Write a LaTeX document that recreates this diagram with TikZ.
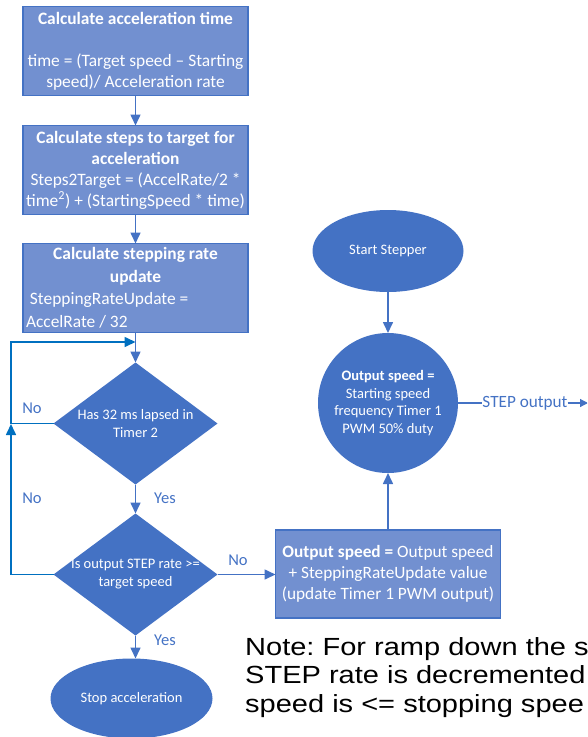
\documentclass[tikz,border=0pt]{standalone}
\usepackage{fontspec}
\setmainfont{Carlito}
\newfontfamily\notefont[FakeStretch=1.17]{Liberation Sans}
\usetikzlibrary{arrows.meta,positioning,shapes.geometric}
\definecolor{boxBlue}{RGB}{114,144,208}
\definecolor{officeBlue}{RGB}{68,114,196}
\definecolor{loopBlue}{RGB}{0,112,192}
\frenchspacing

\begin{document}
\begin{tikzpicture}[
    x=1pt, y=-1pt,
    flow/.style={-{Triangle[length=11pt,width=10pt]}, line width=1.6pt, draw=officeBlue},
    loopflow/.style={-{Triangle[length=11pt,width=10pt]}, line width=1.6pt, draw=loopBlue},
    stepbox/.style={
      rectangle,
      draw=officeBlue,
      line width=1.6pt,
      fill=boxBlue,
      text=white,
      align=center,
      inner sep=1pt,
      outer sep=0pt,
      minimum width=225pt,
      minimum height=89pt,
      font=\fontsize{17.4}{21}\selectfont
    },
    decision/.style={
      diamond,
      fill=officeBlue,
      text=white,
      align=center,
      aspect=1.344,
      inner xsep=-8pt,
      inner ysep=0pt,
      outer sep=0pt,
      minimum width=164pt,
      minimum height=122pt,
      font=\fontsize{14.5}{18}\selectfont
    },
    terminal/.style={
      ellipse,
      fill=officeBlue,
      text=white,
      align=center,
      inner sep=0pt,
      outer sep=0pt,
      font=\fontsize{14.5}{17.5}\selectfont
    },
    answer/.style={text=officeBlue, inner sep=0pt, font=\fontsize{16.5}{20}\selectfont}
  ]
    \useasboundingbox (0,0) rectangle (587,737);
    \clip (0,0) rectangle (587,737);

    % acceleration column
    \node[stepbox] (acctime) at (135.5,51) {
      \textbf{Calculate acceleration time}\\
      \mbox{}\\
      time = (Target speed – Starting\\
      speed)/ Acceleration rate
    };
    \node[stepbox, below=30pt of acctime] (steps) {
      \textbf{Calculate steps to target for}\\
      \textbf{acceleration}\\
      Steps2Target = (AccelRate/2 *\\
      time\textsuperscript{2}) + (StartingSpeed * time)
    };
    \node[stepbox, below=29pt of steps,
      font=\fontsize{17.4}{22.5}\selectfont] (rateupd) {
      \textbf{Calculate stepping rate}\\
      \textbf{update}\\
      \makebox[219pt][l]{\hspace*{4pt}SteppingRateUpdate =}\\
      \makebox[219pt][l]{AccelRate / 32}
    };
    \node[decision, below=30pt of rateupd] (lapsed) {Has 32 ms lapsed in\\ Timer 2};
    \node[decision, below=29pt of lapsed] (reached) {Is output STEP rate >=\\ target speed};
    \node[terminal, minimum width=162pt, minimum height=80pt,
      below=23pt of reached, xshift=-4pt] (stop) {Stop acceleration};

    % output column
    \node[terminal, minimum width=151pt, minimum height=82pt] (start) at (388,251) {Start Stepper};
    \node[terminal, circle, minimum size=140pt, below=41pt of start] (outspd) {
      \textbf{Output speed =}\\
      Starting speed\\
      frequency Timer 1\\
      PWM 50\% duty
    };
    \node[stepbox, below=57pt of outspd, minimum height=88pt,
      font=\fontsize{17.3}{21}\selectfont] (outupd) {
      \textbf{Output speed =} Output speed\\
      + SteppingRateUpdate value\\
      (update Timer 1 PWM output)
    };
    \node[answer, font=\fontsize{17.2}{20}\selectfont] (stepout) at (525,403) {STEP output};
    \coordinate (stepend) at (588,403);

    % answers
    \node[answer] (nolapsed) at (32,408) {No};
    \node[answer] (noreached) at (32,498) {No};
    \node[answer] (yeslapsed) at (165,498) {Yes};
    \node[answer] (noupd) at (238,560) {No};
    \node[answer] (yesreached) at (165,640) {Yes};

    % note
    \node[anchor=base west, inner sep=0pt, align=left,
      font=\notefont\fontsize{24.8}{28.5}\selectfont] (note) at (245,712) {
      Note: For ramp down the s\\
      STEP rate is decremented\\
      speed is <= stopping spee
    };

    % connectors
    \draw[flow] (acctime) -- (steps);
    \draw[flow] (steps) -- (rateupd);
    \draw[flow] (rateupd) -- (lapsed);
    \draw[flow] (lapsed) -- (reached);
    \draw[flow] (reached.south) -- (reached.south |- stop.north);
    \draw[flow] (reached.east) -- (reached.east -| outupd.west);
    \draw[flow] (outupd) -- (outspd);
    \draw[flow] (start) -- (outspd);
    \draw[officeBlue, line width=1.2pt] (outspd) -- (stepout);
    \draw[-{Triangle[length=8pt,width=8pt]}, officeBlue, line width=1.2pt] (stepout) -- (stepend);

    \coordinate (loopTop) at (11,342);
    \coordinate (merge) at (rateupd.south |- loopTop);
    \coordinate (loopMid) at (11,424);
    \draw[loopflow] (lapsed.west) -| (loopTop) -- (merge);
    \draw[loopflow] (reached.west) -| (loopMid);
  \end{tikzpicture}
\end{document}
